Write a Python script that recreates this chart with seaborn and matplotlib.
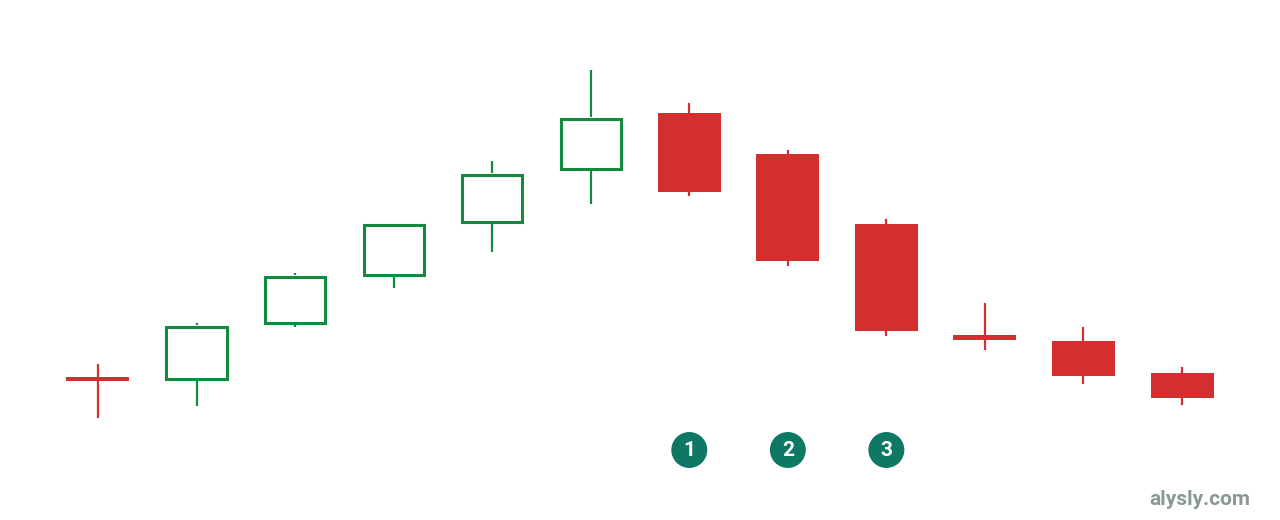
import matplotlib
matplotlib.use("Agg")
import matplotlib.pyplot as plt
import seaborn as sns
import pandas as pd

# candle data (arbitrary price units)
opens = [20.3, 19.8, 34.0, 45.8, 59.2, 72.3, 86.7, 76.4, 58.9, 30.8, 29.8, 21.75]
closes = [20.2, 33.7, 46.2, 59.2, 71.7, 85.7, 67.1, 49.75, 32.25, 30.6, 21.1, 15.4]
highs = [23.9, 34.2, 46.8, 59.3, 74.8, 97.5, 89.2, 77.5, 60.2, 39.2, 33.2, 23.2]
lows = [10.6, 13.6, 33.3, 43.0, 51.9, 64.0, 66.0, 48.5, 31.0, 27.5, 19.0, 13.8]

marker_pos = [6, 7, 8]
marker_labels = ["1", "2", "3"]
marker_level = 2.5

GREEN = "#138a3e"
RED = "#d32f2f"
TEAL = "#0e7864"

df = pd.DataFrame({"open": opens, "close": closes, "high": highs, "low": lows})
df["x"] = range(len(df))
df["up"] = df["close"] > df["open"]

sns.set_theme(style="white")
plt.rcParams['font.family'] = ['Roboto', 'DejaVu Sans']

fig = plt.figure(figsize=(12.8, 5.2), dpi=100)
ax = fig.add_axes([0, 0, 1, 1])

width = 0.64
min_body = 1.15
edge_lw = 2.2
inset = 0.37  # half the outline, in price units, so hollow boxes keep their size

for _, r in df.iterrows():
    col = GREEN if r["up"] else RED
    lo = min(r["open"], r["close"])
    hi = max(r["open"], r["close"])
    if hi - lo < min_body:
        mid = (hi + lo) / 2
        lo, hi = mid - min_body / 2, mid + min_body / 2
    # wicks
    ax.vlines(r["x"], hi, r["high"], color=col, lw=1.6, zorder=1)
    ax.vlines(r["x"], r["low"], lo, color=col, lw=1.6, zorder=1)
    if r["up"]:
        ax.bar(r["x"], hi - lo - 2 * inset, bottom=lo + inset, width=width - 0.03,
               facecolor="white", edgecolor=col, linewidth=edge_lw, zorder=2)
    else:
        ax.bar(r["x"], hi - lo, bottom=lo, width=width, color=col,
               linewidth=0, zorder=2)

mk = pd.DataFrame({"x": marker_pos, "y": [marker_level] * len(marker_pos)})
sns.scatterplot(data=mk, x="x", y="y", s=670, color=TEAL, edgecolor="none",
                ax=ax, zorder=3, legend=False)
for xp, lab in zip(marker_pos, marker_labels):
    ax.text(xp, marker_level, lab, color="white", fontsize=15, fontweight="bold",
            ha="center", va="center", zorder=4)

ax.text(0.977, 0.022, "alysly.com", transform=ax.transAxes, ha="right",
        va="bottom", fontsize=15, fontweight="semibold", color="#8a9a93")

ax.set_xlim(-0.994, 11.994)
ax.set_ylim(-15, 115)
ax.axis("off")

fig.savefig("out.png", dpi=100)
